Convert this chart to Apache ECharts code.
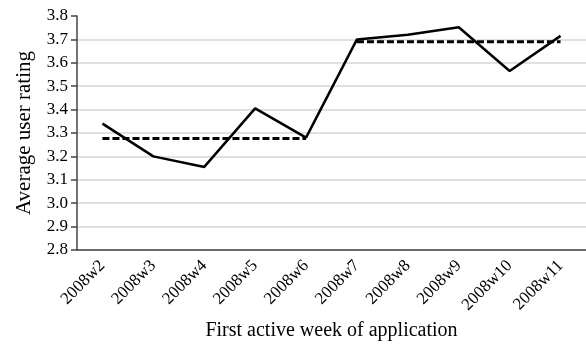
<!DOCTYPE html>
<html>
<head>
<meta charset="utf-8">
<script src="https://cdn.jsdelivr.net/npm/echarts@6/dist/echarts.min.js"></script>
<style>
  html, body { margin: 0; padding: 0; background: #fff; }
  #chart { width: 586px; height: 349px; }
</style>
</head>
<body>
<div id="chart"></div>
<script>
// Weeks of first activity
const weeks = ['2008w2', '2008w3', '2008w4', '2008w5', '2008w6',
  '2008w7', '2008w8', '2008w9', '2008w10', '2008w11'];

// Average user rating per week (solid line)
const ratings = [3.34, 3.20, 3.155, 3.405, 3.28, 3.70, 3.72, 3.752, 3.565, 3.715];

// Period means (dashed lines)
const earlyMean = [3.276, 3.276, 3.276, 3.276, 3.276, null, null, null, null, null];
const lateMean = [null, null, null, null, null, 3.69, 3.69, 3.69, 3.69, 3.69];

const font = 'Liberation Serif';
const axisColor = '#444';
const gridColor = '#d6d6d6';

const chart = echarts.init(document.getElementById('chart'));

// no gridline at the top value (3.8)
const splitColors = Array(10).fill(gridColor).concat(['transparent']);

const dashed = (data) => ({
  type: 'line',
  data: data,
  symbol: 'none',
  silent: true,
  lineStyle: { color: '#000', width: 3, type: [7, 3] },
});

chart.setOption({
  animation: false,
  textStyle: { fontFamily: font },
  grid: { left: 77, top: 16, width: 514, height: 234, containLabel: false },
  xAxis: {
    type: 'category',
    data: weeks,
    boundaryGap: true,
    name: 'First active week of application',
    nameLocation: 'middle',
    nameGap: 69,
    nameTextStyle: { fontFamily: font, fontSize: 20, color: '#000' },
    axisLine: { lineStyle: { color: axisColor, width: 1.5 } },
    axisTick: { alignWithLabel: false, length: 5, lineStyle: { color: axisColor, width: 1.5 } },
    axisLabel: { rotate: 45, fontFamily: font, fontSize: 17, color: '#000', margin: 13, interval: 0 },
  },
  yAxis: {
    type: 'value',
    min: 2.8,
    max: 3.8,
    interval: 0.1,
    name: 'Average user rating',
    nameLocation: 'middle',
    nameGap: 42,
    nameTextStyle: { fontFamily: font, fontSize: 21, color: '#000' },
    axisLine: { show: true, lineStyle: { color: axisColor, width: 1.5 } },
    axisTick: { show: true, length: 6, lineStyle: { color: axisColor, width: 1.5 } },
    axisLabel: {
      fontFamily: font, fontSize: 17, color: '#000', margin: 9,
      formatter: (v) => v.toFixed(1),
    },
    splitLine: { show: true, lineStyle: { color: splitColors, width: 1.5 } },
  },
  series: [
    dashed(earlyMean),
    dashed(lateMean),
    {
      type: 'line',
      data: ratings,
      symbol: 'none',
      lineStyle: { color: '#000', width: 2.5 },
    },
  ],
});
</script>
</body>
</html>
